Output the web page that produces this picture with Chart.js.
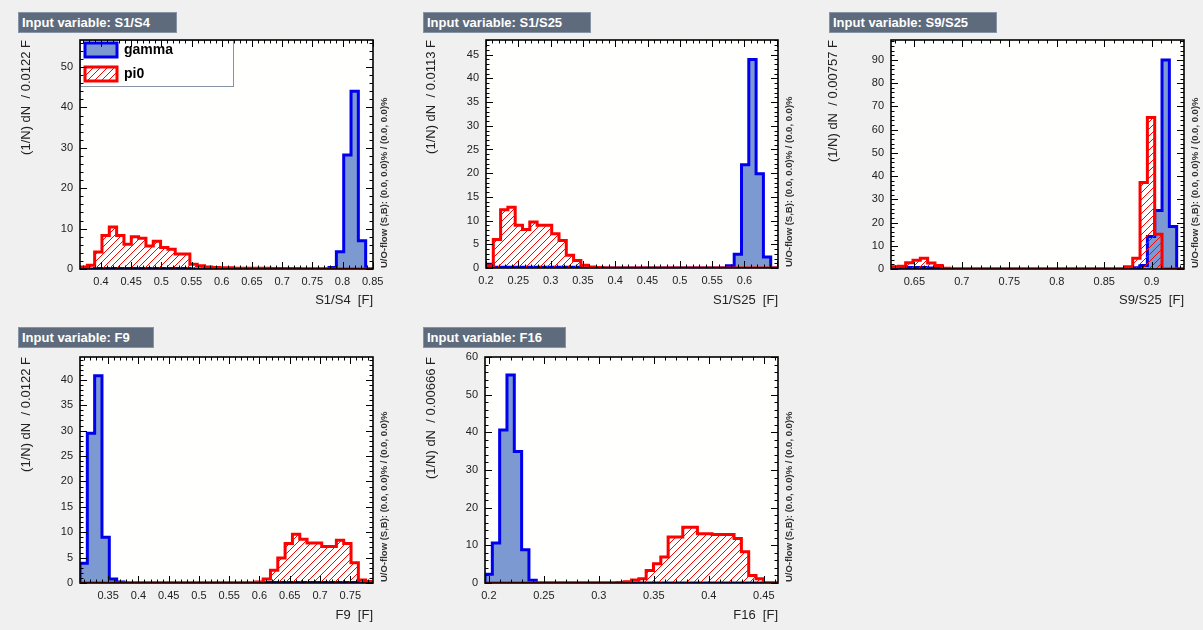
<!DOCTYPE html>
<html><head><meta charset="utf-8">
<script src="https://cdn.jsdelivr.net/npm/chart.js@4.4.1/dist/chart.umd.min.js"></script>
<style>
html,body{margin:0;padding:0;background:#f0f0f0;width:1203px;height:630px;overflow:hidden;font-family:'Liberation Sans',Arial,sans-serif}
canvas{position:absolute}
.ttl{position:absolute;background:#5d6b7d;border:1px solid #8794a5;color:#fff;font:bold 13px 'Liberation Sans',Arial,sans-serif;line-height:19px;padding-left:3px;box-sizing:border-box;height:21px;white-space:nowrap}
</style></head><body>
<script>
// ---------------- data ----------------
const varNames = ["S1/S4", "S1/S25", "S9/S25", "F9", "F16"];
const binWidthLabels = ["0.0122", "0.0113", "0.00757", "0.0122", "0.00666"];
const seriesNames = ["gamma", "pi0"];
const xMin = [0.3653, 0.2, 0.6254, 0.3035, 0.1965];
const xMax = [0.8505, 0.652, 0.934, 0.7875, 0.4629];
const yMax = [56.7, 48.1, 98.6, 44.5, 60];
const yStep = [10, 5, 10, 5, 10];

const xTicksS1S4 = ["0.4","0.45","0.5","0.55","0.6","0.65","0.7","0.75","0.8","0.85"];
const xTicksS1S25 = ["0.2","0.25","0.3","0.35","0.4","0.45","0.5","0.55","0.6"];
const xTicksS9S25 = ["0.65","0.7","0.75","0.8","0.85","0.9"];
const xTicksF9 = ["0.35","0.4","0.45","0.5","0.55","0.6","0.65","0.7","0.75"];
const xTicksF16 = ["0.2","0.25","0.3","0.35","0.4","0.45"];

const gammaS1S4 = [0,0,0.15,0.15,0.15,0.15,0.15,0.15,0.15,0.15,0.15,0.15,0.15,0.1,0.1,0,0,0,0,0,0,0,0,0,0,0,0,0,0,0,0,0,0,0,0.4,4.3,28.2,44.0,7.0,0];
const pi0S1S4 = [0.5,0.9,4.2,8.3,10.4,8.3,6.1,8.0,7.6,5.7,6.9,5.3,4.9,3.7,3.7,1.2,0.8,0.5,0.4,0.3,0.3,0.2,0.2,0.2,0.2,0.2,0.1,0.1,0.1,0.1,0,0,0,0,0,0,0,0,0,0];

const gammaS1S25 = [0.8,0.15,0.15,0.15,0.15,0.15,0.15,0.15,0.15,0.15,0.15,0.15,0.15,0,0,0,0,0,0,0,0,0,0,0,0,0,0,0,0,0,0,0,0,0.5,2.9,21.8,44.0,19.9,2.3,0];
const pi0S1S25 = [0.5,6.0,12.3,12.8,9.0,8.1,9.7,9.0,9.0,7.2,5.8,2.7,1.6,0.6,0.2,0.1,0,0,0,0,0,0,0,0,0,0,0,0,0,0,0,0,0,0,0,0,0,0,0,0];

const gammaS9S25 = [0,0.3,0.6,0.6,0.6,0.4,0.2,0,0,0,0,0,0,0,0,0,0,0,0,0,0,0,0,0,0,0,0,0,0,0,0,0,0,0.5,1.5,14.0,25.2,90.0,18.3,0];
const pi0S9S25 = [1.0,1.2,2.7,3.8,4.6,2.6,1.5,0.3,0,0,0,0,0,0,0,0,0,0,0,0,0,0,0,0,0,0,0,0,0,0,0,0,1.0,4.6,37.2,65.2,15.0,0,0,0];

const gammaF9 = [3.9,29.5,40.8,9.0,0.8,0.2,0,0,0,0,0,0,0,0,0,0,0,0,0,0,0,0,0,0,0,0.1,0.1,0.1,0.1,0.1,0.1,0.1,0.1,0.1,0.1,0.1,0.1,0.1,0,0];
const pi0F9 = [0,0,0,0,0,0,0,0,0,0,0,0,0,0,0,0,0,0,0,0,0,0,0,0,0.2,0.8,2.5,4.9,7.8,9.6,8.6,7.9,7.9,7.2,7.2,8.4,7.8,4.0,0.6,0.3];

const gammaF16 = [2.3,10.6,40.6,55.2,34.9,8.8,0.7,0,0,0,0,0,0,0,0,0,0,0,0,0,0,0,0,0,0,0,0,0,0,0,0,0,0,0,0,0,0,0,0,0];
const pi0F16 = [0,0,0,0,0,0,0,0,0,0,0,0,0,0,0,0,0,0,0.1,0.3,0.8,1.1,3.3,5.1,6.9,12.2,12.2,14.8,14.8,13.1,13.1,12.9,12.9,12.9,11.8,8.3,2.0,1.1,0,0];

const xTickSets = [xTicksS1S4, xTicksS1S25, xTicksS9S25, xTicksF9, xTicksF16];
const gammaSets = [gammaS1S4, gammaS1S25, gammaS9S25, gammaF9, gammaF16];
const pi0Sets = [pi0S1S4, pi0S1S25, pi0S9S25, pi0F9, pi0F16];

// ---------------- layout (page geometry) ----------------
// canvas [x,y,w,h], frame [left,top,right,bottom] inside canvas, title box [x,y,w]
const layout = [
  {cv:[0,0,401,315],   fr:[80,40,373,269], tb:[18,12,159], yt:19},
  {cv:[401,0,401,315], fr:[85,40,377,268], tb:[22,12,168], yt:23.5},
  {cv:[802,0,401,315], fr:[89,40,382,269], tb:[27,12,168], yt:24},
  {cv:[0,315,401,315], fr:[80,42,373,268], tb:[18,12,136], yt:19},
  {cv:[401,315,401,315], fr:[84,42,377,268], tb:[22,12,143], yt:23.5}
];

Chart.defaults.font.family = "'Liberation Sans', Arial, Helvetica, sans-serif";
Chart.defaults.color = '#222';

function hatchPattern() {
  const c = document.createElement('canvas');
  c.width = 7; c.height = 7;
  const g = c.getContext('2d');
  g.strokeStyle = '#ff0000'; g.lineWidth = 1;
  g.beginPath();
  g.moveTo(-1, 8); g.lineTo(8, -1);
  g.moveTo(-8, 8); g.lineTo(1, -1);
  g.moveTo(6, 8); g.lineTo(15, -1);
  g.stroke();
  return g.createPattern(c, 'repeat');
}
const hatch = hatchPattern();

function histPoints(vals, lo, hi) {
  const w = (hi - lo) / vals.length;
  const pts = [{x: lo, y: 0}];
  vals.forEach((v, i) => pts.push({x: lo + i * w, y: v}));
  pts.push({x: hi, y: vals[vals.length - 1]});
  pts.push({x: hi, y: 0});
  return pts;
}

const rootPad = {
  id: 'rootPad',
  afterLayout(chart, args, o) {
    const lg = chart.legend;
    if (lg && o.legendShift && chart.options.plugins.legend.display) {
      const a = chart.chartArea;
      const w = lg.width, h = lg.height;
      lg.left = a.left + o.legendShift[0];
      lg.top = a.top + o.legendShift[1];
      lg.right = lg.left + w;
      lg.bottom = lg.top + h;
    }
  },
  beforeDraw(chart, args, o) {
    const {ctx, chartArea: a} = chart;
    ctx.save();
    ctx.fillStyle = '#fffffd';
    ctx.fillRect(a.left, a.top, a.right - a.left, a.bottom - a.top);
    if (o.legendBox) {
      const [w, h] = o.legendBox;
      ctx.fillStyle = '#ffffff';
      ctx.fillRect(a.left, a.top, w, h);
      ctx.strokeStyle = '#8794a5'; ctx.lineWidth = 1;
      ctx.strokeRect(a.left + 0.5, a.top + 0.5, w, h);
    }
    ctx.restore();
  },
  afterDraw(chart, args, o) {
    const {ctx, chartArea: a, scales: {x, y}} = chart;
    ctx.save();
    ctx.strokeStyle = '#000'; ctx.lineWidth = 1;
    const MAJ = 7, MIN = 3.5;
    ctx.beginPath();
    const xs = o.xMinor;
    for (let k = Math.ceil(x.min / xs - 1e-6); k * xs <= x.max + 1e-9; k++) {
      const px = Math.round(x.getPixelForValue(k * xs)) + 0.5;
      const L = (k % 5 === 0) ? MAJ : MIN;
      ctx.moveTo(px, a.bottom); ctx.lineTo(px, a.bottom - L);
      ctx.moveTo(px, a.top); ctx.lineTo(px, a.top + L);
    }
    const ys = o.yMinor;
    for (let k = 0; k * ys <= y.max + 1e-9; k++) {
      const py = Math.round(y.getPixelForValue(k * ys)) + 0.5;
      const L = (k % 5 === 0) ? MAJ : MIN;
      ctx.moveTo(a.left, py); ctx.lineTo(a.left + L, py);
      ctx.moveTo(a.right, py); ctx.lineTo(a.right - L, py);
    }
    ctx.stroke();
    ctx.lineWidth = 1.6;
    ctx.strokeRect(a.left, a.top, a.right - a.left, a.bottom - a.top);
    // under/overflow note
    ctx.translate(a.right + 11, a.bottom);
    ctx.rotate(-Math.PI / 2);
    ctx.fillStyle = '#333';
    ctx.font = "bold 9.5px 'Liberation Sans', Arial, sans-serif";
    ctx.textAlign = 'left'; ctx.textBaseline = 'middle';
    ctx.fillText(o.uoText, 1, 0);
    ctx.restore();
  }
};

layout.forEach((L, i) => {
  const cv = document.createElement('canvas');
  cv.width = L.cv[2]; cv.height = L.cv[3];
  cv.style.left = L.cv[0] + 'px'; cv.style.top = L.cv[1] + 'px';
  cv.style.width = L.cv[2] + 'px'; cv.style.height = L.cv[3] + 'px';
  document.body.appendChild(cv);

  const t = document.createElement('div');
  t.className = 'ttl';
  t.style.left = (L.cv[0] + L.tb[0]) + 'px';
  t.style.top = (L.cv[1] + L.tb[1]) + 'px';
  t.style.width = L.tb[2] + 'px';
  t.textContent = 'Input variable: ' + varNames[i];
  document.body.appendChild(t);

  const [fl, ft, fr, fb] = L.fr;
  const W = L.cv[2], H = L.cv[3];
  const ticks = xTickSets[i];

  new Chart(cv, {
    type: 'line',
    data: {
      datasets: [
        {label: seriesNames[0], data: histPoints(gammaSets[i], xMin[i], xMax[i]),
         borderColor: '#0000ee', backgroundColor: '#7d99d1', borderWidth: 3,
         fill: 'origin', stepped: true, pointRadius: 0, order: 1, borderJoinStyle: 'miter'},
        {label: seriesNames[1], data: histPoints(pi0Sets[i], xMin[i], xMax[i]),
         borderColor: '#ff0000', backgroundColor: hatch, borderWidth: 3,
         fill: 'origin', stepped: true, pointRadius: 0, order: 0, borderJoinStyle: 'miter'}
      ]
    },
    options: {
      responsive: false, animation: false, devicePixelRatio: 1, events: [],
      layout: {padding: {left: 0, top: ft, right: W - fr, bottom: 0}},
      scales: {
        x: {
          type: 'linear', min: xMin[i], max: xMax[i],
          grid: {display: false, drawTicks: false}, border: {display: false},
          afterBuildTicks: s => { s.ticks = ticks.map(v => ({value: parseFloat(v)})); },
          ticks: {autoSkip: false, maxRotation: 0, padding: 6, font: {size: 11}, color: '#222',
                  callback: (v) => { const j = ticks.findIndex(q => Math.abs(parseFloat(q) - v) < 1e-9); return j >= 0 ? ticks[j] : ''; }},
          title: {display: true, text: varNames[i] + '  [F]', align: 'end', font: {size: 13}, color: '#222',
                  padding: {top: 0, bottom: 7}},
          afterFit: s => { s.height = H - fb; }
        },
        y: {
          min: 0, max: yMax[i],
          grid: {display: false, drawTicks: false}, border: {display: false},
          afterBuildTicks: s => { const a = []; for (let v = 0; v <= yMax[i] + 1e-9; v += yStep[i]) a.push({value: v}); s.ticks = a; },
          ticks: {padding: 7, font: {size: 11}, color: '#222'},
          title: {display: true, text: '(1/N) dN  / ' + binWidthLabels[i] + ' F', align: 'end', font: {size: 13}, color: '#222',
                  padding: {top: L.yt - 0.6, bottom: 0}},
          afterFit: s => { s.width = fl; }
        }
      },
      plugins: {
        tooltip: {enabled: false},
        legend: {
          display: i === 0, position: 'chartArea', align: 'start',
          labels: {boxWidth: 32, boxHeight: 14, padding: 10, color: '#000',
                   font: {size: 14, weight: 'bold'},
                   sort: (a, b) => a.datasetIndex - b.datasetIndex}
        },
        rootPad: {
          xMinor: 0.01, yMinor: yStep[i] / 5,
          uoText: 'U/O-flow (S,B): (0.0, 0.0)% / (0.0, 0.0)%',
          legendBox: i === 0 ? [153, 46] : null,
          legendShift: [-5, -7]
        }
      }
    },
    plugins: [rootPad]
  });
});
</script>
</body></html>
